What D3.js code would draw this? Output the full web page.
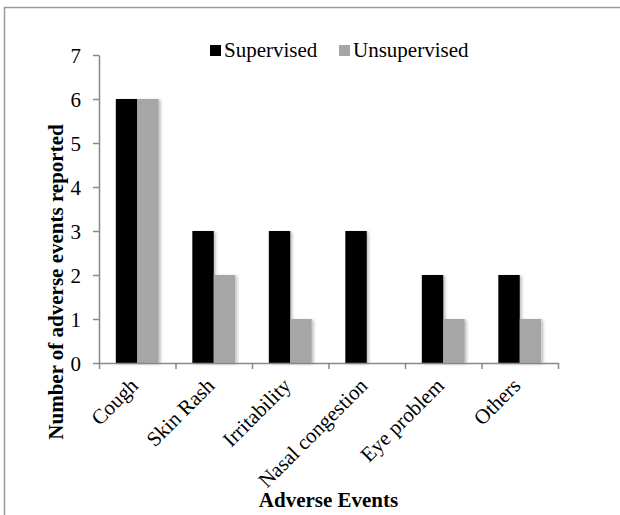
<!DOCTYPE html>
<html>
<head>
<meta charset="utf-8">
<script src="https://cdn.jsdelivr.net/npm/d3@7"></script>
<style>
  body { margin: 0; background: #fff; }
  text { font-family: "Liberation Serif", "Times New Roman", serif; }
</style>
</head>
<body>
<script>
// chart data
var categories = ["Cough", "Skin Rash", "Irritability", "Nasal congestion", "Eye problem", "Others"];
var seriesNames = ["Supervised", "Unsupervised"];
var supervised = [6, 3, 3, 3, 2, 2];
var unsupervised = [6, 2, 1, 0, 1, 1];
var yTicks = [0, 1, 2, 3, 4, 5, 6, 7];

var colors = ["#000000", "#a6a6a6"];

// set the dimensions and margins of the graph
var margin = {top: 55, right: 62, bottom: 152, left: 99},
    width = 620 - margin.left - margin.right,
    height = 515 - margin.top - margin.bottom;

var svg0 = d3.select("body").append("svg")
    .attr("width", 620)
    .attr("height", 515);

// soft shadow like the office chart
var defs = svg0.append("defs");
var f = defs.append("filter").attr("id", "shadow")
    .attr("x", "-20%").attr("y", "-5%").attr("width", "150%").attr("height", "115%");
f.append("feDropShadow")
    .attr("dx", 2).attr("dy", 1)
    .attr("stdDeviation", 1.5)
    .attr("flood-color", "#000")
    .attr("flood-opacity", 0.25);

// outer frame (top and left edge visible)
svg0.append("path")
    .attr("d", "M4.5,515 V7.5 H620")
    .attr("fill", "none")
    .attr("stroke", "#9a9a9a")
    .attr("stroke-width", 1.5);

var svg = svg0.append("g")
    .attr("transform", "translate(" + margin.left + "," + margin.top + ")");

// set the ranges
var x0 = d3.scaleBand()
    .domain(categories)
    .range([0, width])
    .paddingInner(0.44)
    .paddingOuter(0.22);
var x1 = d3.scaleBand()
    .domain(seriesNames)
    .range([0, x0.bandwidth()]);
var y = d3.scaleLinear()
    .domain([0, 7])
    .range([height, 0]);
// boundaries between categories, for the x tick marks
var xEdge = d3.scaleLinear()
    .domain([0, categories.length])
    .range([0, width]);

var data = categories.map(function(c, i) {
  return {cat: c, values: [supervised[i], unsupervised[i]]};
});

// bars
var groups = svg.selectAll(".grp")
    .data(data)
  .enter().append("g")
    .attr("class", "grp")
    .attr("transform", function(d) { return "translate(" + x0(d.cat) + ",0)"; });

groups.selectAll("rect")
    .data(function(d) {
      return d.values.map(function(v, j) { return {s: seriesNames[j], v: v, j: j}; });
    })
  .enter().append("rect")
    .filter(function(d) { return d.v > 0; })
    .attr("x", function(d) { return x1(d.s); })
    .attr("width", x1.bandwidth())
    .attr("y", function(d) { return y(d.v); })
    .attr("height", function(d) { return height - y(d.v); })
    .attr("fill", function(d) { return colors[d.j]; })
    .attr("filter", "url(#shadow)");

// y axis
var yAxis = svg.append("g")
    .call(d3.axisLeft(y).tickValues(yTicks).tickFormat(d3.format("d"))
      .tickSize(6).tickPadding(12).tickSizeOuter(0));
yAxis.select(".domain").attr("stroke", "#898989").attr("stroke-width", 1.5);
yAxis.selectAll(".tick line").attr("stroke", "#898989").attr("stroke-width", 1.5);
yAxis.selectAll(".tick text")
    .style("font-size", "21px")
    .attr("fill", "#000")
    .attr("dy", "0.34em");

// x axis (tick marks at category boundaries)
var xAxis = svg.append("g")
    .attr("transform", "translate(0," + height + ")")
    .call(d3.axisBottom(xEdge).tickValues(d3.range(categories.length + 1))
      .tickSize(6).tickSizeOuter(0).tickFormat(""));
xAxis.select(".domain").attr("stroke", "#898989").attr("stroke-width", 1.5);
xAxis.selectAll(".tick line").attr("stroke", "#898989").attr("stroke-width", 1.5);

// rotated category labels
svg.selectAll(".catlabel")
    .data(categories)
  .enter().append("text")
    .attr("class", "catlabel")
    .attr("transform", function(d) {
      return "translate(" + (x0(d) + x0.bandwidth() / 2 + 2) + "," + (height + 24) + ") rotate(-45)";
    })
    .attr("text-anchor", "end")
    .style("font-size", "21px")
    .text(function(d) { return d; });

// axis titles
svg.append("text")
    .attr("x", width / 2)
    .attr("y", height + 144)
    .attr("text-anchor", "middle")
    .style("font-size", "21px")
    .style("font-weight", "bold")
    .text("Adverse Events");

svg.append("text")
    .attr("transform", "translate(" + (63 - margin.left) + "," + 227 + ") rotate(-90)")
    .attr("text-anchor", "middle")
    .style("font-size", "21px")
    .style("font-weight", "bold")
    .text("Number of adverse events reported");

// legend
var legendX = [210, 339];
var legend = svg0.selectAll(".legend")
    .data(seriesNames)
  .enter().append("g")
    .attr("class", "legend")
    .attr("transform", function(d, i) { return "translate(" + legendX[i] + ",45)"; });

legend.append("rect")
    .attr("width", 11)
    .attr("height", 11)
    .attr("fill", function(d, i) { return colors[i]; });

legend.append("text")
    .attr("x", 14)
    .attr("y", 12)
    .style("font-size", "21px")
    .text(function(d) { return d; });
</script>
</body>
</html>
